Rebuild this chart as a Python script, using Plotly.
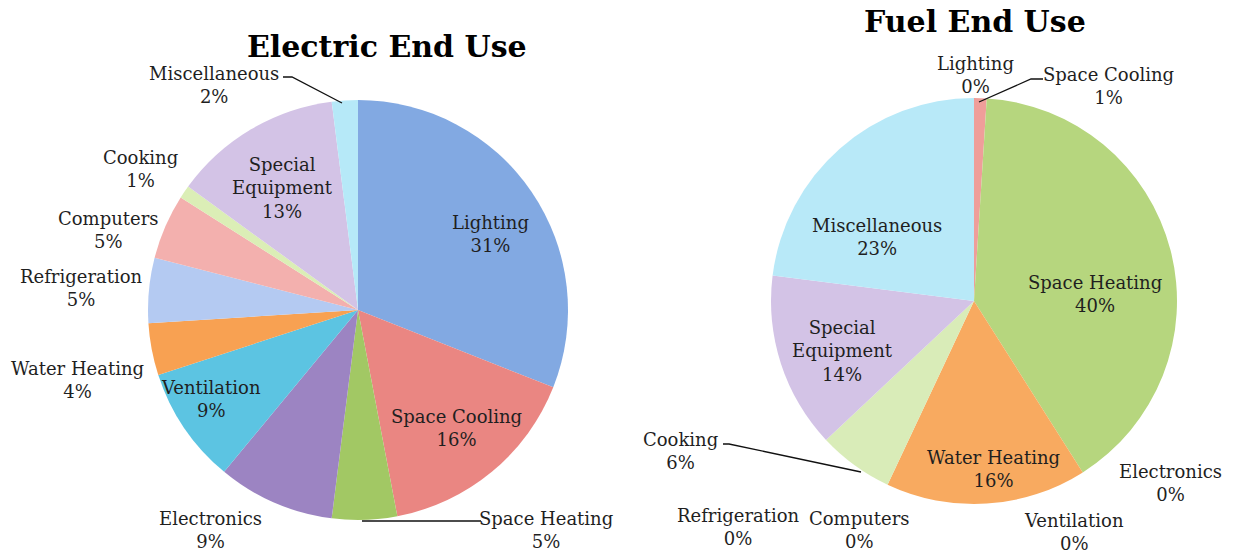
import plotly.graph_objects as go

# ---- data ----
categories = ["Lighting", "Space Cooling", "Space Heating", "Electronics", "Ventilation",
              "Water Heating", "Refrigeration", "Computers", "Cooking",
              "Special Equipment", "Miscellaneous"]
electric_pct = [31, 16, 5, 9, 9, 4, 5, 5, 1, 13, 2]
fuel_pct = [0, 1, 40, 0, 0, 16, 0, 0, 6, 14, 23]
titles = ["Electric End Use", "Fuel End Use"]

colors = ["#82a9e2", "#ea8682", "#a2c864", "#9c84c2", "#5cc4e2",
          "#f8a152", "#b4caf2", "#f3b0ae", "#dbeeb6", "#d3c3e6", "#b6e9f8"]
fuel_colors = ["#82a9e2", "#ef9e9a", "#b6d67e", "#9c84c2", "#5cc4e2",
               "#f8aa60", "#b4caf2", "#f3b0ae", "#d9ecb8", "#d3c3e6", "#b8e9f8"]

W, H = 1236, 555
def px(x): return x / W
def py(y): return 1 - y / H

FONT = "DejaVu Serif"
TXT = "#1f1f1f"

fig = go.Figure()
fig.add_trace(go.Pie(labels=categories, values=electric_pct, sort=False, direction="clockwise",
                     rotation=0, textinfo="none", marker=dict(colors=colors, line=dict(width=0)),
                     domain=dict(x=[px(148), px(568)], y=[py(520), py(100)]), showlegend=False))
fig.add_trace(go.Pie(labels=categories, values=fuel_pct, sort=False, direction="clockwise",
                     rotation=0, textinfo="none", marker=dict(colors=fuel_colors, line=dict(width=0)),
                     domain=dict(x=[px(771), px(1177)], y=[py(504), py(98)]), showlegend=False))

# label placements (pixel centres) for each category
elec_pos = {
    "Lighting": (490, 234), "Space Cooling": (456, 428), "Space Heating": (546, 530),
    "Electronics": (210, 530), "Ventilation": (211, 399), "Water Heating": (77, 380),
    "Refrigeration": (81, 288), "Computers": (109, 230), "Cooking": (140, 169),
    "Special Equipment": (282, 188), "Miscellaneous": (214, 85),
}
fuel_pos = {
    "Lighting": (975, 75), "Space Cooling": (1108, 86), "Space Heating": (1095, 294),
    "Electronics": (1170, 483), "Ventilation": (1074, 532), "Water Heating": (993, 469),
    "Refrigeration": (738, 527), "Computers": (860, 530), "Cooking": (680, 451),
    "Special Equipment": (842, 351), "Miscellaneous": (877, 237),
}

def disp(name):
    return "Special<br>Equipment" if name == "Special Equipment" else name

annotations = []
for vals, pos in ((electric_pct, elec_pos), (fuel_pct, fuel_pos)):
    for name, v in zip(categories, vals):
        x, y = pos[name]
        annotations.append(dict(x=px(x), y=py(y), xref="paper", yref="paper",
                                text=f"{disp(name)}<br>{v}%", showarrow=False,
                                font=dict(family=FONT, size=18, color=TXT),
                                xanchor="center", yanchor="middle", align="center"))

annotations.append(dict(x=px(387), y=py(46), xref="paper", yref="paper", text="<b>" + titles[0] + "</b>",
                        showarrow=False, font=dict(family=FONT, size=30, color="#000"),
                        xanchor="center", yanchor="middle"))
annotations.append(dict(x=px(975), y=py(21), xref="paper", yref="paper", text="<b>" + titles[1] + "</b>",
                        showarrow=False, font=dict(family=FONT, size=30, color="#000"),
                        xanchor="center", yanchor="middle"))

leaders = [
    [(283, 77), (292, 77), (342, 103)],
    [(481, 521), (362, 521)],
    [(1043, 79), (1031, 79), (979, 102)],
    [(723, 444), (729, 444), (861, 472)],
]
shapes = []
for pts in leaders:
    path = "M " + " L ".join(f"{px(a)},{py(b)}" for a, b in pts)
    shapes.append(dict(type="path", xref="paper", yref="paper", path=path,
                       line=dict(color="#111", width=1.3)))

fig.update_layout(width=W, height=H, margin=dict(l=0, r=0, t=0, b=0),
                  paper_bgcolor="white", plot_bgcolor="white",
                  annotations=annotations, shapes=shapes)
fig.write_html("out.html", config={"displayModeBar": False},
               post_script="document.body.style.margin='0';document.body.style.overflow='hidden';")
